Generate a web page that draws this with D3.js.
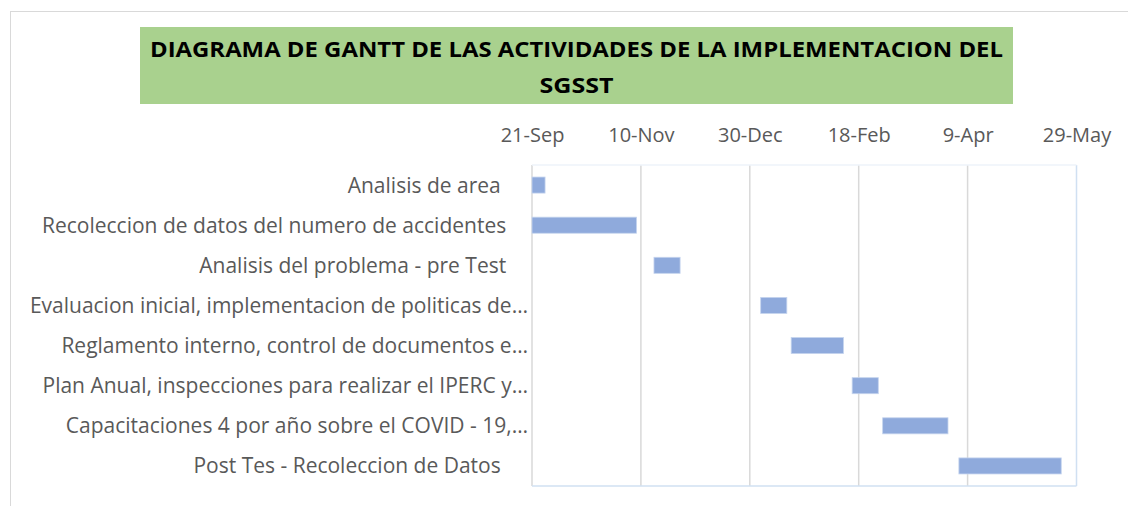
<!DOCTYPE html>
<html>
<head>
<meta charset="utf-8">
<script src="https://cdn.jsdelivr.net/npm/d3@7"></script>
<style>
  body { margin: 0; background: #fff; }
  text { font-family: "Open Sans", sans-serif; }
</style>
</head>
<body>
<script>
const width = 1128;
const height = 506;

// activities (trailing spaces as in the source cells)
const tasks = [
  "Analisis de area     ",
  "Recoleccion de datos del numero de accidentes    ",
  "Analisis del problema - pre Test    ",
  "Evaluacion inicial, implementacion de politicas de…",
  "Reglamento interno, control de documentos e…",
  "Plan Anual, inspecciones para realizar el IPERC y…",
  "Capacitaciones 4 por año sobre el COVID - 19,…",
  "Post Tes - Recoleccion de Datos     "
];
const startDates = [
  "2020-09-21", "2020-09-21", "2020-11-16", "2021-01-04",
  "2021-01-18", "2021-02-15", "2021-03-01", "2021-04-05"
];
const durations = [6, 48, 12, 12, 24, 12, 30, 47];
const tickDates = ["2020-09-21", "2020-11-10", "2020-12-30", "2021-02-18", "2021-04-09", "2021-05-29"];
const titleLines = ["DIAGRAMA DE GANTT DE LAS ACTIVIDADES DE LA IMPLEMENTACION DEL", "SGSST"];

const parse = d3.utcParse("%Y-%m-%d");
const fmt = d3.utcFormat("%-d-%b");
const day = 24 * 3600 * 1000;

const plot = { left: 532, right: 1076.5, top: 165, bottom: 486 };

const svg = d3.select("body").append("svg").attr("width", width).attr("height", height);

// outer chart frame
svg.append("rect")
  .attr("x", 10.5).attr("y", 11.5)
  .attr("width", 1200).attr("height", 600)
  .attr("fill", "none").attr("stroke", "#d9d9d9");

// title box
svg.append("rect")
  .attr("x", 140).attr("y", 27)
  .attr("width", 873).attr("height", 77)
  .attr("fill", "#a9d18e");
svg.selectAll(".title")
  .data(titleLines)
  .enter()
  .append("text")
  .attr("class", "title")
  .attr("x", 576.5)
  .attr("y", (d, i) => 57 + i * 36)
  .attr("text-anchor", "middle")
  .attr("font-size", 21)
  .attr("font-weight", "bold")
  .attr("fill", "#000")
  .attr("textLength", (d, i) => (i === 0 ? 853 : 74))
  .attr("lengthAdjust", "spacingAndGlyphs")
  .text((d) => d);

const x = d3.scaleUtc()
  .domain([parse(tickDates[0]), parse(tickDates[tickDates.length - 1])])
  .range([plot.left, plot.right]);

const y = d3.scaleBand()
  .domain(tasks)
  .range([plot.top, plot.bottom])
  .paddingInner(0.6)
  .paddingOuter(0.3);

// gridlines
svg.append("g")
  .selectAll("line")
  .data(tickDates.map(parse))
  .enter()
  .append("line")
  .attr("x1", (d) => x(d)).attr("x2", (d) => x(d))
  .attr("y1", plot.top).attr("y2", plot.bottom)
  .attr("stroke", (d, i) => (i === tickDates.length - 1 ? "#d0e0f2" : "#d9d9d9"))
  .attr("stroke-width", 1.5);

// plot frame (top, bottom)
svg.append("line")
  .attr("x1", plot.left).attr("x2", plot.right)
  .attr("y1", plot.bottom).attr("y2", plot.bottom)
  .attr("stroke", "#d0e0f2").attr("stroke-width", 1.5);
svg.append("line")
  .attr("x1", plot.left).attr("x2", plot.right)
  .attr("y1", plot.top).attr("y2", plot.top)
  .attr("stroke", "#eef3fa").attr("stroke-width", 1.5);

// top axis
const xAxis = svg.append("g")
  .attr("transform", `translate(0,${plot.top - 23})`)
  .call(d3.axisTop(x).tickValues(tickDates.map(parse)).tickFormat(fmt).tickSize(0).tickPadding(0));
xAxis.select(".domain").remove();
xAxis.selectAll("text")
  .attr("dy", 0)
  .attr("font-size", 20)
  .attr("fill", "#595959")
  .style("font-family", "'Open Sans', sans-serif");

// category labels
svg.append("g")
  .selectAll("text")
  .data(tasks)
  .enter()
  .append("text")
  .attr("x", 528)
  .attr("y", (d) => y(d) + y.bandwidth() / 2)
  .attr("dy", "0.36em")
  .attr("text-anchor", "end")
  .attr("font-size", 21)
  .attr("fill", "#595959")
  .style("white-space", "pre")
  .text((d) => d);

// bars
const bars = tasks.map((t, i) => ({
  task: t,
  start: parse(startDates[i]),
  end: new Date(parse(startDates[i]).getTime() + durations[i] * day)
}));

svg.append("g")
  .selectAll("rect")
  .data(bars)
  .enter()
  .append("rect")
  .attr("x", (d) => x(d.start))
  .attr("y", (d) => y(d.task))
  .attr("width", (d) => x(d.end) - x(d.start))
  .attr("height", y.bandwidth())
  .attr("fill", "#8faadc")
  .attr("stroke", "#c5d4ee")
  .attr("stroke-width", 0.8);
</script>
</body>
</html>
